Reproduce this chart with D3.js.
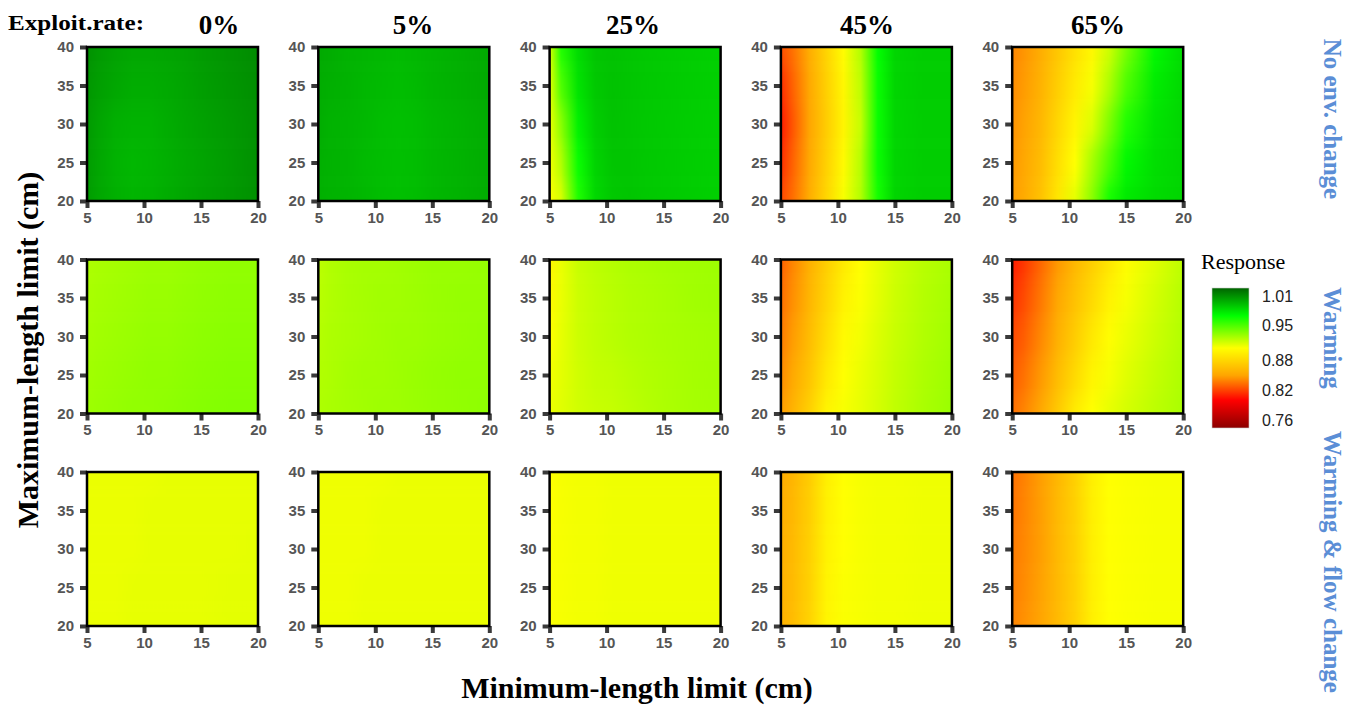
<!DOCTYPE html>
<html>
<head>
<meta charset="utf-8">
<script src="https://cdn.jsdelivr.net/npm/d3@7"></script>
<style>
    body { margin: 0; background: #fff; }
</style>
</head>
<body>
<div id="heat_grid"></div>
<script>
// harvest response surfaces: min/max length limit x exploitation rate x scenario
var exploit_rates = ["0%", "5%", "25%", "45%", "65%"];
var scenarios = ["No env. change", "Warming", "Warming & flow change"];
var min_len = [5, 6, 7.5, 9, 10.5, 12, 13.5, 15, 17.5, 20];
var max_len = [20, 25, 30, 35, 40];
var x_ticks = [5, 10, 15, 20];
var y_ticks = [20, 25, 30, 35, 40];
var legend_ticks = [1.01, 0.95, 0.88, 0.82, 0.76];

// each panel: rows for max_len 20..40, columns for min_len 5..20
var resp_no_env = [
    [[1.006, 1.002, 0.999, 0.997, 0.998, 1.000, 1.002, 1.004, 1.007, 1.010],
     [1.006, 1.002, 0.998, 0.996, 0.997, 0.999, 1.001, 1.003, 1.006, 1.010],
     [1.007, 1.003, 0.999, 0.998, 0.998, 1.000, 1.002, 1.004, 1.007, 1.010],
     [1.008, 1.005, 1.002, 1.000, 1.000, 1.001, 1.003, 1.005, 1.008, 1.011],
     [1.010, 1.007, 1.004, 1.002, 1.002, 1.003, 1.004, 1.006, 1.009, 1.012]],
    [[0.999, 0.998, 0.997, 0.996, 0.994, 0.993, 0.994, 0.996, 0.998, 1.000],
     [0.999, 0.998, 0.997, 0.995, 0.994, 0.993, 0.994, 0.996, 0.998, 1.000],
     [1.000, 0.998, 0.997, 0.996, 0.994, 0.993, 0.994, 0.996, 0.998, 1.000],
     [1.000, 0.999, 0.998, 0.996, 0.995, 0.994, 0.995, 0.997, 0.999, 1.001],
     [1.001, 1.000, 0.998, 0.997, 0.996, 0.995, 0.996, 0.997, 0.999, 1.001]],
    [[0.906, 0.915, 0.962, 0.984, 0.990, 0.991, 0.990, 0.989, 0.988, 0.987],
     [0.908, 0.925, 0.968, 0.986, 0.991, 0.991, 0.990, 0.989, 0.988, 0.987],
     [0.910, 0.935, 0.975, 0.988, 0.992, 0.991, 0.990, 0.989, 0.988, 0.987],
     [0.912, 0.950, 0.980, 0.990, 0.992, 0.991, 0.990, 0.989, 0.988, 0.987],
     [0.915, 0.962, 0.983, 0.991, 0.992, 0.991, 0.990, 0.989, 0.988, 0.987]],
    [[0.822, 0.833, 0.855, 0.880, 0.907, 0.925, 0.965, 0.985, 0.988, 0.988],
     [0.814, 0.829, 0.852, 0.877, 0.902, 0.924, 0.968, 0.985, 0.988, 0.988],
     [0.808, 0.825, 0.850, 0.874, 0.898, 0.920, 0.968, 0.985, 0.988, 0.988],
     [0.814, 0.829, 0.852, 0.876, 0.900, 0.922, 0.968, 0.985, 0.988, 0.988],
     [0.824, 0.834, 0.855, 0.879, 0.903, 0.925, 0.970, 0.985, 0.988, 0.988]],
    [[0.848, 0.853, 0.868, 0.890, 0.912, 0.935, 0.965, 0.978, 0.983, 0.985],
     [0.846, 0.851, 0.864, 0.885, 0.905, 0.928, 0.950, 0.972, 0.982, 0.985],
     [0.844, 0.849, 0.861, 0.880, 0.898, 0.914, 0.938, 0.962, 0.980, 0.985],
     [0.842, 0.847, 0.858, 0.875, 0.892, 0.907, 0.926, 0.950, 0.977, 0.984],
     [0.840, 0.845, 0.855, 0.870, 0.886, 0.900, 0.918, 0.940, 0.972, 0.983]]
];

var resp_warming = [
    [[0.930, 0.931, 0.932, 0.933, 0.933, 0.934, 0.935, 0.936, 0.937, 0.937],
     [0.929, 0.930, 0.931, 0.932, 0.933, 0.933, 0.934, 0.935, 0.936, 0.936],
     [0.928, 0.929, 0.930, 0.931, 0.932, 0.932, 0.933, 0.934, 0.935, 0.935],
     [0.927, 0.928, 0.929, 0.930, 0.931, 0.931, 0.932, 0.933, 0.934, 0.934],
     [0.926, 0.927, 0.928, 0.929, 0.930, 0.930, 0.931, 0.932, 0.933, 0.933]],
    [[0.926, 0.927, 0.928, 0.929, 0.930, 0.930, 0.931, 0.932, 0.933, 0.934],
     [0.925, 0.926, 0.928, 0.929, 0.929, 0.930, 0.931, 0.932, 0.933, 0.933],
     [0.924, 0.926, 0.927, 0.928, 0.929, 0.930, 0.930, 0.931, 0.932, 0.933],
     [0.923, 0.925, 0.927, 0.928, 0.929, 0.929, 0.930, 0.931, 0.932, 0.932],
     [0.922, 0.925, 0.927, 0.928, 0.928, 0.929, 0.930, 0.931, 0.931, 0.932]],
    [[0.910, 0.913, 0.917, 0.919, 0.920, 0.922, 0.924, 0.926, 0.928, 0.929],
     [0.908, 0.912, 0.917, 0.920, 0.921, 0.923, 0.925, 0.926, 0.928, 0.929],
     [0.905, 0.911, 0.918, 0.921, 0.923, 0.925, 0.926, 0.927, 0.928, 0.929],
     [0.902, 0.910, 0.918, 0.921, 0.923, 0.925, 0.926, 0.927, 0.929, 0.930],
     [0.899, 0.910, 0.919, 0.922, 0.924, 0.926, 0.927, 0.928, 0.929, 0.930]],
    [[0.848, 0.858, 0.876, 0.898, 0.907, 0.911, 0.916, 0.921, 0.927, 0.931],
     [0.842, 0.852, 0.869, 0.891, 0.905, 0.910, 0.915, 0.920, 0.926, 0.930],
     [0.837, 0.847, 0.864, 0.884, 0.902, 0.908, 0.914, 0.919, 0.925, 0.929],
     [0.833, 0.843, 0.860, 0.879, 0.897, 0.906, 0.912, 0.918, 0.924, 0.928],
     [0.829, 0.840, 0.857, 0.875, 0.892, 0.905, 0.911, 0.917, 0.923, 0.927]],
    [[0.834, 0.840, 0.852, 0.872, 0.893, 0.905, 0.911, 0.916, 0.922, 0.927],
     [0.828, 0.834, 0.846, 0.864, 0.882, 0.898, 0.907, 0.913, 0.920, 0.926],
     [0.822, 0.828, 0.841, 0.857, 0.874, 0.891, 0.904, 0.910, 0.918, 0.925],
     [0.815, 0.822, 0.836, 0.851, 0.867, 0.882, 0.897, 0.907, 0.916, 0.924],
     [0.808, 0.816, 0.831, 0.846, 0.861, 0.875, 0.889, 0.904, 0.913, 0.922]]
];

var resp_flow = [
    [[0.910, 0.910, 0.910, 0.911, 0.911, 0.911, 0.911, 0.911, 0.912, 0.912],
     [0.910, 0.910, 0.910, 0.911, 0.911, 0.911, 0.911, 0.911, 0.912, 0.912],
     [0.910, 0.910, 0.910, 0.910, 0.911, 0.911, 0.911, 0.911, 0.911, 0.912],
     [0.910, 0.910, 0.910, 0.910, 0.911, 0.911, 0.911, 0.911, 0.911, 0.911],
     [0.910, 0.910, 0.910, 0.910, 0.910, 0.911, 0.911, 0.911, 0.911, 0.911]],
    [[0.909, 0.909, 0.909, 0.910, 0.910, 0.910, 0.910, 0.910, 0.910, 0.910],
     [0.909, 0.909, 0.909, 0.910, 0.910, 0.910, 0.910, 0.910, 0.910, 0.910],
     [0.909, 0.909, 0.909, 0.909, 0.910, 0.910, 0.910, 0.910, 0.910, 0.910],
     [0.909, 0.909, 0.909, 0.909, 0.910, 0.910, 0.910, 0.910, 0.910, 0.910],
     [0.909, 0.909, 0.909, 0.909, 0.909, 0.910, 0.910, 0.910, 0.910, 0.910]],
    [[0.906, 0.907, 0.908, 0.908, 0.909, 0.909, 0.909, 0.909, 0.909, 0.909],
     [0.906, 0.907, 0.908, 0.908, 0.909, 0.909, 0.909, 0.909, 0.909, 0.909],
     [0.906, 0.907, 0.908, 0.908, 0.909, 0.909, 0.909, 0.909, 0.909, 0.909],
     [0.905, 0.907, 0.908, 0.908, 0.909, 0.909, 0.909, 0.909, 0.909, 0.909],
     [0.905, 0.907, 0.908, 0.908, 0.909, 0.909, 0.909, 0.909, 0.909, 0.909]],
    [[0.858, 0.864, 0.878, 0.899, 0.906, 0.907, 0.908, 0.908, 0.909, 0.909],
     [0.857, 0.863, 0.877, 0.898, 0.906, 0.907, 0.908, 0.908, 0.909, 0.909],
     [0.856, 0.862, 0.876, 0.897, 0.905, 0.907, 0.908, 0.908, 0.909, 0.909],
     [0.855, 0.861, 0.875, 0.896, 0.905, 0.907, 0.908, 0.908, 0.909, 0.909],
     [0.854, 0.860, 0.874, 0.895, 0.905, 0.907, 0.908, 0.908, 0.909, 0.909]],
    [[0.840, 0.844, 0.850, 0.863, 0.877, 0.896, 0.905, 0.906, 0.907, 0.907],
     [0.838, 0.842, 0.849, 0.862, 0.876, 0.895, 0.905, 0.906, 0.907, 0.907],
     [0.837, 0.841, 0.848, 0.862, 0.876, 0.895, 0.905, 0.906, 0.907, 0.907],
     [0.835, 0.840, 0.848, 0.862, 0.876, 0.895, 0.905, 0.906, 0.907, 0.907],
     [0.834, 0.839, 0.848, 0.861, 0.876, 0.895, 0.905, 0.906, 0.907, 0.907]]
];

var response = [resp_no_env, resp_warming, resp_flow];

// layout
var width = 1352, height = 706;
var panel_w = 171, panel_h = 154;
var serif = "'Liberation Serif', 'Times New Roman', serif";
var sans = "'Liberation Sans', Arial, sans-serif";
var title_x = [219, 413, 633, 867, 1098];
var side_y = [119, 338, 562];

function col_left(i) { return 87 + i * 231.3; }
function row_top(j) { return 47 + j * 212.5; }

var heat_x = d3.scaleLinear().domain([5, 20]).range([0, panel_w]);
var heat_y = d3.scaleLinear().domain([20, 40]).range([panel_h, 0]);
var heat_color = d3.scaleLinear()
    .domain([0.744, 0.80, 0.85, 0.905, 0.97, 1.026])
    .range(["#8b0000", "#ff0000", "#ffa500", "#ffff00", "#00ff00", "#006400"])
    .clamp(true);

var svg = d3.select("#heat_grid").append("svg")
    .attr("width", width)
    .attr("height", height);

var defs = svg.append("defs");

defs.append("filter")
    .attr("id", "vblur")
    .attr("x", "-5%").attr("y", "-30%")
    .attr("width", "110%").attr("height", "160%")
    .attr("color-interpolation-filters", "sRGB")
    .append("feGaussianBlur")
    .attr("stdDeviation", "0 11");

// one horizontal gradient per data row
function row_gradient(id, row) {
    var grad = defs.append("linearGradient")
        .attr("id", id)
        .attr("x1", 0).attr("x2", 1).attr("y1", 0).attr("y2", 0);
    grad.selectAll("stop")
        .data(row)
        .enter().append("stop")
        .attr("offset", function (d, i) { return heat_x(min_len[i]) / panel_w; })
        .attr("stop-color", function (d) { return heat_color(d); });
}

function strip_top(i) {
    if (i == max_len.length - 1) return -30;
    return (heat_y(max_len[i]) + heat_y(max_len[i + 1])) / 2;
}
function strip_bottom(i) {
    if (i == 0) return panel_h + 30;
    return (heat_y(max_len[i]) + heat_y(max_len[i - 1])) / 2;
}

response.forEach(function (scen, s) {
    scen.forEach(function (grid, e) {
        var pid = "p" + s + "_" + e;
        var g = svg.append("g")
            .attr("transform", "translate(" + col_left(e) + "," + row_top(s) + ")");

        defs.append("clipPath").attr("id", "clip_" + pid)
            .append("rect")
            .attr("width", panel_w).attr("height", panel_h);

        grid.forEach(function (row, r) { row_gradient("grad_" + pid + "_" + r, row); });

        g.append("g")
            .attr("clip-path", "url(#clip_" + pid + ")")
            .append("g")
            .attr("filter", "url(#vblur)")
            .selectAll("rect")
            .data(grid)
            .enter().append("rect")
            .attr("x", 0)
            .attr("width", panel_w)
            .attr("y", function (d, r) { return strip_top(r); })
            .attr("height", function (d, r) { return strip_bottom(r) - strip_top(r); })
            .attr("fill", function (d, r) { return "url(#grad_" + pid + "_" + r + ")"; });

        var y_axis = g.append("g")
            .call(d3.axisLeft(heat_y).tickValues(y_ticks).tickSize(7).tickPadding(6).tickSizeOuter(0));
        var x_axis = g.append("g")
            .attr("transform", "translate(0," + panel_h + ")")
            .call(d3.axisBottom(heat_x).tickValues(x_ticks).tickSize(7).tickPadding(4).tickSizeOuter(0));

        [y_axis, x_axis].forEach(function (ax) {
            ax.select(".domain").remove();
            ax.selectAll(".tick line")
                .attr("stroke", "#3a3a3a")
                .attr("stroke-width", 4);
            ax.selectAll(".tick text")
                .attr("fill", "#555")
                .style("font-family", sans)
                .style("font-size", "15px")
                .style("font-weight", "bold");
        });

        g.append("rect")
            .attr("width", panel_w).attr("height", panel_h)
            .attr("fill", "none")
            .attr("stroke", "#000")
            .attr("stroke-width", 2.5);
    });
});

// column titles
svg.append("text")
    .attr("x", 8).attr("y", 30)
    .attr("textLength", 136)
    .attr("lengthAdjust", "spacingAndGlyphs")
    .style("font-family", serif)
    .style("font-weight", "bold")
    .style("font-size", "21px")
    .text("Exploit.rate:");

svg.selectAll(".col_title")
    .data(exploit_rates)
    .enter().append("text")
    .attr("class", "col_title")
    .attr("x", function (d, i) { return title_x[i]; })
    .attr("y", 34)
    .style("text-anchor", "middle")
    .style("font-family", serif)
    .style("font-weight", "bold")
    .style("font-size", "27px")
    .text(function (d) { return d; });

// scenario labels on the right
svg.selectAll(".side_label")
    .data(scenarios)
    .enter().append("text")
    .attr("class", "side_label")
    .attr("transform", function (d, i) { return "translate(1333," + side_y[i] + ") rotate(90)"; })
    .attr("dy", "0.35em")
    .style("text-anchor", "middle")
    .style("fill", "#5b8ed6")
    .style("font-family", serif)
    .style("font-weight", "bold")
    .style("font-size", "25px")
    .text(function (d) { return d; });

// axis titles
svg.append("text")
    .attr("x", 637).attr("y", 698)
    .style("text-anchor", "middle")
    .style("font-family", serif)
    .style("font-weight", "bold")
    .style("font-size", "30px")
    .text("Minimum-length limit (cm)");

svg.append("text")
    .attr("transform", "translate(27,350) rotate(-90)")
    .attr("dy", "0.35em")
    .style("text-anchor", "middle")
    .style("font-family", serif)
    .style("font-weight", "bold")
    .style("font-size", "30px")
    .text("Maximum-length limit (cm)");

// legend
var legend_y = d3.scaleLinear().domain([0.744, 1.026]).range([428, 288]);
var legend_grad = defs.append("linearGradient")
    .attr("id", "legend_grad")
    .attr("x1", 0).attr("x2", 0).attr("y1", 1).attr("y2", 0);
legend_grad.selectAll("stop")
    .data(heat_color.domain())
    .enter().append("stop")
    .attr("offset", function (d) { return (428 - legend_y(d)) / 140; })
    .attr("stop-color", function (d) { return heat_color(d); });

svg.append("text")
    .attr("x", 1201).attr("y", 269)
    .style("font-family", serif)
    .style("font-size", "22px")
    .text("Response");

svg.append("rect")
    .attr("x", 1212).attr("y", legend_y(1.026))
    .attr("width", 37)
    .attr("height", legend_y(0.744) - legend_y(1.026))
    .attr("fill", "url(#legend_grad)")
    .attr("stroke", "#ccc")
    .attr("stroke-width", 0.6);

svg.selectAll(".legend_label")
    .data(legend_ticks)
    .enter().append("text")
    .attr("class", "legend_label")
    .attr("x", 1262)
    .attr("y", function (d) { return legend_y(d); })
    .attr("dy", "0.35em")
    .style("font-family", sans)
    .style("font-size", "16px")
    .style("fill", "#222")
    .text(function (d) { return d3.format(".2f")(d); });
</script>
</body>
</html>
